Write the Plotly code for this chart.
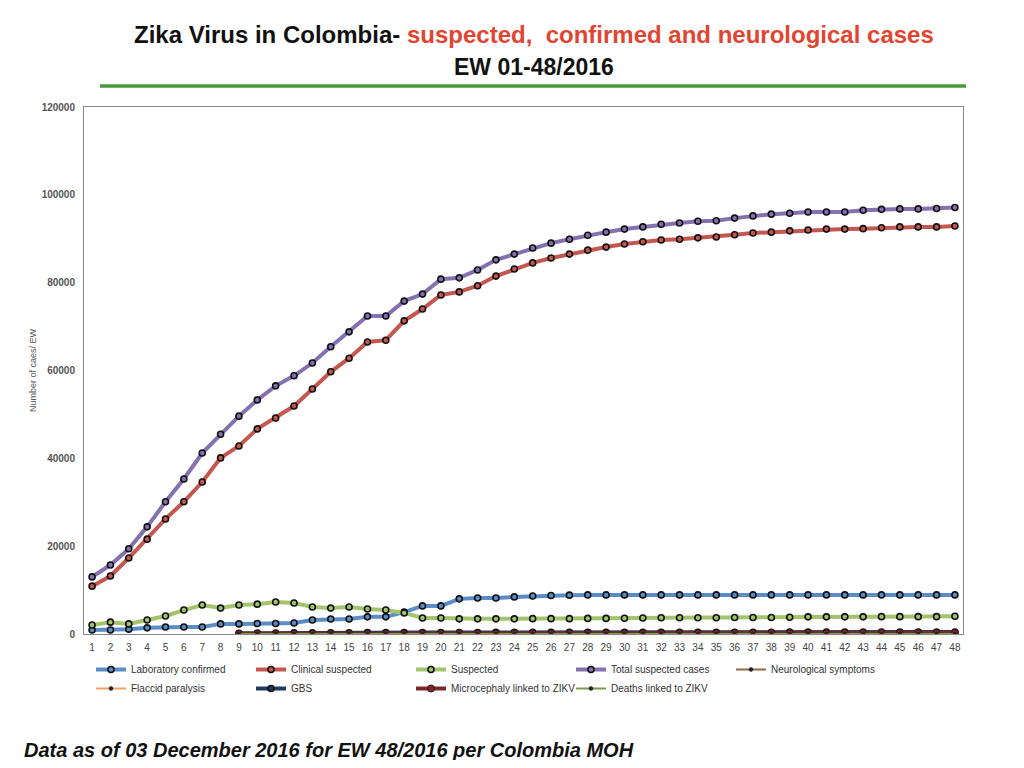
import plotly.graph_objects as go

# epidemiological weeks 1-48
weeks = list(range(1, 49))

lab_confirmed = [900, 900, 1100, 1400, 1600, 1600, 1600, 2300, 2300, 2400,
                 2400, 2500, 3200, 3400, 3400, 3900, 3900, 5000, 6400, 6400,
                 8000, 8200, 8200, 8450, 8650, 8750, 8850, 8900, 8900, 8900,
                 8900, 8900, 8900, 8900, 8900, 8900, 8900, 8900, 8900, 8900,
                 8900, 8900, 8900, 8900, 8900, 8900, 8900, 8900]

clinical_suspected = [10900, 13200, 17300, 21600, 26200, 30100, 34600, 40100, 42800, 46700,
                      49200, 51900, 55800, 59700, 62800, 66500, 66900, 71300, 74000, 77200,
                      77900, 79300, 81500, 83100, 84500, 85600, 86500, 87400, 88100, 88800,
                      89300, 89700, 89900, 90200, 90400, 90900, 91300, 91500, 91800, 92000,
                      92200, 92200, 92300, 92500, 92700, 92700, 92700, 92900]

suspected = [2050, 2700, 2300, 3200, 4100, 5450, 6600, 5900, 6600, 6800,
             7300, 7050, 6150, 5900, 6150, 5700, 5450, 4800, 3650, 3650,
             3450, 3450, 3450, 3450, 3500, 3500, 3500, 3550, 3550, 3600,
             3650, 3700, 3700, 3700, 3700, 3750, 3750, 3750, 3800, 3900,
             3900, 3900, 3900, 3950, 3950, 3950, 3950, 4050]

total_suspected = [13000, 15700, 19400, 24400, 30100, 35300, 41200, 45500, 49600, 53300,
                   56500, 58800, 61700, 65400, 68800, 72400, 72400, 75800, 77400, 80800,
                   81100, 82900, 85200, 86500, 87900, 89000, 89900, 90800, 91500, 92200,
                   92700, 93300, 93600, 94000, 94100, 94700, 95200, 95600, 95800, 96100,
                   96100, 96100, 96500, 96700, 96800, 96800, 96900, 97100]

# neurological series only reported from EW 9
neuro_symptoms = [None] * 8 + [210, 260, 300, 330, 360, 390, 410, 430, 440, 450,
                               460, 470, 480, 490, 500, 505, 510, 515, 520, 525,
                               530, 535, 540, 545, 550, 555, 560, 565, 570, 575,
                               580, 585, 590, 595, 600, 600, 600, 600, 600, 600]

flaccid_paralysis = [None] * 8 + [20, 25, 30, 35, 40, 45, 50, 55, 60, 60,
                                  65, 65, 70, 70, 70, 75, 75, 75, 80, 80,
                                  80, 80, 85, 85, 85, 85, 90, 90, 90, 90,
                                  90, 95, 95, 95, 95, 95, 100, 100, 100, 100]

gbs = [None] * 8 + [150, 190, 220, 250, 270, 290, 300, 310, 320, 330,
                    340, 345, 350, 355, 360, 365, 370, 375, 380, 385,
                    390, 395, 400, 400, 405, 405, 410, 410, 415, 415,
                    420, 420, 420, 425, 425, 425, 430, 430, 430, 430]

microcephaly = [None] * 8 + [40, 45, 50, 55, 60, 65, 70, 75, 80, 85,
                             90, 95, 100, 105, 110, 115, 120, 125, 130, 135,
                             140, 145, 150, 155, 160, 165, 170, 175, 180, 185,
                             190, 195, 200, 205, 210, 215, 220, 225, 230, 235]

deaths = [None] * 8 + [5, 5, 6, 6, 7, 7, 8, 8, 9, 9,
                       10, 10, 10, 11, 11, 11, 12, 12, 12, 12,
                       13, 13, 13, 13, 14, 14, 14, 14, 15, 15,
                       15, 15, 15, 16, 16, 16, 16, 16, 17, 17]

series = [
    ("Laboratory confirmed", lab_confirmed, "#5A8DC8", 4, "ring"),
    ("Clinical suspected", clinical_suspected, "#C4574F", 4, "ring"),
    ("Suspected", suspected, "#A3C46A", 4, "ring"),
    ("Total suspected cases", total_suspected, "#8570B0", 4, "ring"),
    ("Neurological symptoms", neuro_symptoms, "#8C6A45", 2, "small"),
    ("Flaccid paralysis", flaccid_paralysis, "#F2A25E", 2, "small"),
    ("GBS", gbs, "#1F3B63", 4, "ring"),
    ("Microcephaly linked to ZIKV", microcephaly, "#7A2A2A", 4, "dot"),
    ("Deaths linked to ZIKV", deaths, "#7C9B4A", 2, "small"),
]

fig = go.Figure()

for name, vals, color, width, mk in series:
    if mk == "ring":
        marker = dict(symbol="circle", size=6, color=color,
                      line=dict(color="#111111", width=1.6))
    elif mk == "dot":
        marker = dict(symbol="circle", size=7, color=color,
                      line=dict(color="#3a1010", width=1))
    else:
        marker = dict(symbol="circle", size=4, color="#222222",
                      line=dict(color="#222222", width=0.5))
    fig.add_trace(go.Scatter(
        x=weeks, y=vals, name=name, mode="lines+markers",
        line=dict(color=color, width=width),
        marker=marker,
    ))

# page body has an 8px margin, so the figure is 1008x752 and plot area
# sits at 76..955 x 99..626 inside it
PL, PT, PW, PH = 76, 99, 879, 527


def px(x):
    return (x - 8 - PL) / PW


def py(y):
    return 1 - (y - 8 - PT) / PH


fig.update_layout(
    width=1008, height=752,
    paper_bgcolor="white", plot_bgcolor="white",
    margin=dict(l=76, r=53, t=99, b=126),
    font=dict(family="Liberation Sans, Arial, sans-serif", color="#333333"),
    showlegend=True,
    legend=dict(orientation="h", x=7 / PW, xanchor="left", y=-21 / PH, yanchor="top",
                entrywidth=115, entrywidthmode="pixels", itemwidth=30,
                font=dict(size=10, color="#333333"), tracegroupgap=0),
)

fig.update_xaxes(
    range=[0.56, 48.44], tickmode="array", tickvals=weeks,
    ticktext=[str(w) for w in weeks],
    showgrid=False, zeroline=False, showline=True, linecolor="#888888",
    linewidth=1, mirror=True, ticks="", ticklabelstandoff=4,
    tickfont=dict(size=10, color="#444444"),
)
fig.update_yaxes(
    range=[0, 120000], dtick=20000, tickformat="d", showgrid=False, zeroline=False,
    showline=True, linecolor="#888888", linewidth=1, mirror=True, ticks="",
    ticklabelstandoff=6,
    tickfont=dict(size=10, color="#555555", family="Liberation Sans, Arial"),
    tickprefix="<b>", ticksuffix="</b>",
)

# y-axis title
fig.add_annotation(
    text="Number of caes/ EW", xref="paper", yref="paper",
    x=px(33), y=py(370), xanchor="center", yanchor="middle",
    textangle=-90, showarrow=False,
    font=dict(size=9, color="#555555"),
)

# heading
fig.add_annotation(
    text="<b>Zika Virus in Colombia- </b><b><span style='color:#E2452F'>suspected,  confirmed and neurological cases</span></b>",
    xref="paper", yref="paper", x=px(534), y=py(35),
    xanchor="center", yanchor="middle",
    showarrow=False, font=dict(size=24, color="#111111"),
)
fig.add_annotation(
    text="<b>EW 01-48/2016</b>",
    xref="paper", yref="paper", x=px(534), y=py(67),
    xanchor="center", yanchor="middle",
    showarrow=False, font=dict(size=23, color="#111111"),
)
fig.add_shape(
    type="line", xref="paper", yref="paper",
    x0=px(100), x1=px(966), y0=py(86), y1=py(86),
    line=dict(color="#4A9A38", width=3.5),
)

# footnote
fig.add_annotation(
    text="<b><i>Data as of 03 December 2016 for EW 48/2016 per Colombia MOH</i></b>",
    xref="paper", yref="paper", x=px(22), xanchor="left",
    y=py(750), yanchor="middle", showarrow=False,
    font=dict(size=20, color="#111111"),
)

fig.write_html("out.html")
